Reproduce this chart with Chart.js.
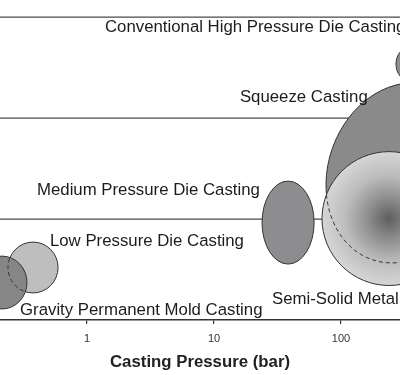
<!DOCTYPE html>
<html lang="en">
<head>
<meta charset="UTF-8">
<title>Casting processes by pressure</title>
<script src="https://cdn.jsdelivr.net/npm/chart.js"></script>
<style>
    html, body { margin: 0; padding: 0; background: #fff; }
    .chart-box { width: 400px; height: 375px; }
</style>
</head>
<body>
<div class="chart-box"><canvas id="castingCanvas"></canvas></div>
<script>
// processes in drawing order (later ones lie on top)
const processes = [
    'Low Pressure Die Casting',
    'Gravity Permanent Mold Casting',
    'Medium Pressure Die Casting',
    'Conventional High Pressure Die Casting',
    'Squeeze Casting',
    'Semi-Solid Metal Casting'
];
// centre of each region: pressure in bar, level on the unlabeled vertical axis
const centerPressure = [0.376, 0.214, 38.3, 349, 303, 239];
const centerLevel = [5.2, 3.71, 9.65, 25.35, 14.57, 10.05];
// half extent: decades of pressure, level units
const halfDecades = [0.197, 0.197, 0.205, 0.11, 0.583, 0.528];
const halfLevel = [2.52, 2.62, 4.11, 1.68, 9.09, 6.63];
const tilt = [0, 0, 0, 0, 0.337, 0];
// index of the region that hides part of this one (its outline goes dashed there)
const coveredBy = [1, -1, -1, -1, 5, -1];
// where each name is written
const labelPressure = [0.511, 0.297, 0.404, 1.386, 16.0, 28.6];
const labelLevel = [7.82, 0.99, 12.87, 29.0, 22.08, 2.08];

const separatorLevels = [10, 20, 30];
const pressureTicks = [1, 10, 100];
const pressureMin = 0.2066;
const pressureMax = 291.3;
const levelMax = 31.7;

const fontFamily = '"Liberation Sans", Arial, Helvetica, sans-serif';
const shades = ['#bebebe', '#868686', '#8d8d8f', '#8e8e8e', '#8a8a8a', null];

function ellipsePath(ctx, g) {
    ctx.beginPath();
    ctx.ellipse(g.cx, g.cy, g.rx, g.ry, g.rot, 0, Math.PI * 2);
}

const regionsPlugin = {
    id: 'regions',
    afterDatasetsDraw(chart) {
        const ctx = chart.ctx;
        const xs = chart.scales.x;
        const ys = chart.scales.y;

        const shapes = processes.map((p, i) => {
            const cx = xs.getPixelForValue(centerPressure[i]);
            const cy = ys.getPixelForValue(centerLevel[i]);
            const rx = xs.getPixelForValue(centerPressure[i] * Math.pow(10, halfDecades[i])) - cx;
            const ry = cy - ys.getPixelForValue(centerLevel[i] + halfLevel[i]);
            return { cx, cy, rx, ry, rot: tilt[i] };
        });

        ctx.save();
        ctx.lineWidth = 1;
        ctx.strokeStyle = '#333';
        shapes.forEach((g, i) => {
            ellipsePath(ctx, g);
            if (shades[i]) {
                ctx.fillStyle = shades[i];
            } else {
                const grad = ctx.createRadialGradient(g.cx, g.cy, 0, g.cx, g.cy, g.ry);
                grad.addColorStop(0, '#5e5e5e');
                grad.addColorStop(0.3, '#8c8c8c');
                grad.addColorStop(0.65, '#bcbcbc');
                grad.addColorStop(1, '#d6d6d6');
                ctx.fillStyle = grad;
            }
            ctx.fill();
            ctx.setLineDash([]);
            ctx.stroke();

            coveredBy.forEach((c, j) => {
                if (c !== i) return;
                ctx.save();
                ellipsePath(ctx, g);
                ctx.clip();
                ellipsePath(ctx, shapes[j]);
                ctx.setLineDash([4, 3]);
                ctx.stroke();
                ctx.restore();
            });
        });
        ctx.restore();
    },
    afterDraw(chart) {
        const ctx = chart.ctx;
        const xs = chart.scales.x;
        const ys = chart.scales.y;
        ctx.save();
        ctx.font = '16.8px ' + fontFamily;
        ctx.fillStyle = '#1c1c1c';
        ctx.textAlign = 'left';
        ctx.textBaseline = 'middle';
        processes.forEach((name, i) => {
            ctx.fillText(name, xs.getPixelForValue(labelPressure[i]), ys.getPixelForValue(labelLevel[i]));
        });
        ctx.restore();
    }
};

const separatorSets = separatorLevels.map(lvl => ({
    data: [{ x: pressureMin, y: lvl }, { x: pressureMax, y: lvl }],
    showLine: true,
    borderColor: '#4a4a4a',
    borderWidth: 1.2,
    pointRadius: 0,
    pointHoverRadius: 0
}));

new Chart(document.getElementById('castingCanvas'), {
    type: 'scatter',
    data: { datasets: separatorSets },
    options: {
        responsive: true,
        maintainAspectRatio: false,
        animation: false,
        layout: { padding: 0 },
        plugins: {
            legend: { display: false },
            tooltip: { enabled: false }
        },
        scales: {
            x: {
                type: 'logarithmic',
                min: pressureMin,
                max: pressureMax,
                afterBuildTicks(axis) {
                    axis.ticks = pressureTicks.map(v => ({ value: v }));
                },
                afterFit(axis) {
                    axis.height = 55;   // axis line sits at y = 320
                },
                grid: { drawOnChartArea: false, tickLength: 4, color: '#333', lineWidth: 1.2 },
                border: { display: true, color: '#333', width: 1.5 },
                ticks: {
                    padding: 9,
                    color: '#333',
                    autoSkip: false,
                    maxRotation: 0,
                    font: { size: 11, family: fontFamily, lineHeight: 1 },
                    callback: v => String(v)
                },
                title: {
                    display: true,
                    text: 'Casting Pressure (bar)',
                    color: '#222',
                    font: { size: 16.8, weight: 'bold', family: fontFamily, lineHeight: 1 },
                    padding: { top: 0, bottom: 4.6 }
                }
            },
            y: { display: false, min: 0, max: levelMax }
        }
    },
    plugins: [regionsPlugin]
});
</script>
</body>
</html>
